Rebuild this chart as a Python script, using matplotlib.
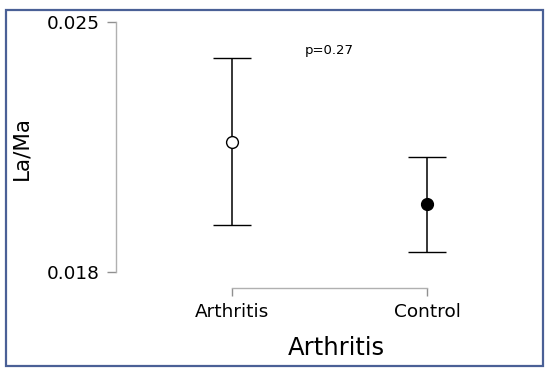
import matplotlib
matplotlib.use("Agg")
from matplotlib import pyplot as plt
from matplotlib.patches import Rectangle

# data
groups = ['Arthritis', 'Control']
means = [0.02165, 0.0199]
upper = [0.0240, 0.02123]
lower = [0.01932, 0.01857]
faces = ['white', 'black']
yticks = [0.018, 0.025]
ytick_labels = ['0.018', '0.025']
p_text = 'p=0.27'

plt.rcParams['font.family'] = 'DejaVu Sans'

fig = plt.figure(figsize=(5.5, 3.73), dpi=100)
ax = fig.add_axes([116/550, 1-288/373, 384/550, 273/373])

x = list(range(len(groups)))
for i in x:
    ax.errorbar(i, means[i],
                yerr=[[means[i]-lower[i]], [upper[i]-means[i]]],
                fmt='o', color='black', mfc=faces[i], mec='black',
                ms=8.5, mew=1, elinewidth=1.1, capsize=14, capthick=1.1, zorder=3)

ax.set_xlim(-0.595, 1.374)
ax.set_ylim(0.017552, 0.025196)

ax.set_xticks(x)
ax.set_xticklabels(groups, fontsize=13.3)
ax.set_yticks(yticks)
ax.set_yticklabels(ytick_labels, fontsize=13.3)

for s in ['top', 'right']:
    ax.spines[s].set_visible(False)
ax.spines['left'].set_bounds(yticks[0], yticks[-1])
ax.spines['bottom'].set_bounds(x[0], x[-1])
for s in ['left', 'bottom']:
    ax.spines[s].set_color('#b0b0b0')
    ax.spines[s].set_linewidth(1)
ax.tick_params(axis='y', color='#909090', length=6.5, width=1, pad=5)
ax.tick_params(axis='x', color='#909090', length=6, width=1, pad=5)

ax.set_xlabel('Arthritis', fontsize=17.5, va='center')
ax.xaxis.set_label_coords((336-116)/384, 1-(348-15)/273)
ax.set_ylabel('La/Ma', fontsize=15.5, va='center', ha='center')
ax.yaxis.set_label_coords((21-116)/384, 1-(148-15)/273)

ax.text(0.497, 0.02421, p_text, fontsize=9.5, ha='center', va='center')

# frame around the whole figure
fig.patches.append(Rectangle((6/550, 1-366/373), 537/550, 356/373,
                             transform=fig.transFigure, fill=False,
                             edgecolor='#4a6096', linewidth=1.6))

plt.savefig('out.png', dpi=100)
